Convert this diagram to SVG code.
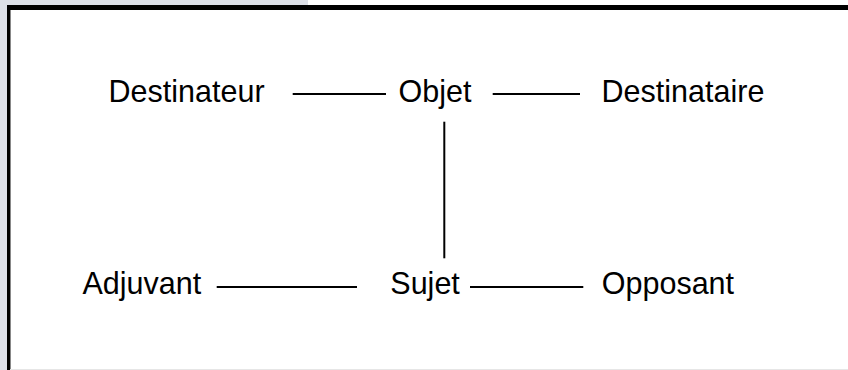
<svg xmlns="http://www.w3.org/2000/svg" width="848" height="370" viewBox="0 0 848 370">
<style>
.lbl{font-family:"Liberation Sans",Arial,sans-serif;font-size:30.5px;fill:#000}
.c{stroke:#000;stroke-width:2;fill:none}
</style>
<rect x="0" y="0" width="848" height="370" fill="#fff"/>
<rect x="0" y="0" width="308" height="5" fill="#dde0e8"/>
<rect x="0" y="0" width="7" height="370" fill="#dde0e8"/>
<rect x="7" y="5" width="841" height="5" fill="#000"/>
<rect x="7" y="5" width="3" height="365" fill="#000"/>
<rect x="10" y="10" width="1" height="360" fill="#888"/>
<rect x="10" y="369" width="838" height="1" fill="#e6e6e6"/>
<g id="connectors">
<line class="c" x1="292.7" y1="94" x2="386" y2="94"/>
<line class="c" x1="492.7" y1="94" x2="580" y2="94"/>
<line class="c" x1="444.3" y1="121.7" x2="444.3" y2="258.3"/>
<line class="c" x1="216.7" y1="287" x2="357" y2="287"/>
<line class="c" x1="470" y1="287" x2="583.3" y2="287"/>
</g>
<g id="destinateur"><text class="lbl" x="108.6" y="102">Destinateur</text></g>
<g id="objet"><text class="lbl" x="398.5" y="102">Objet</text></g>
<g id="destinataire"><text class="lbl" x="601.6" y="102">Destinataire</text></g>
<g id="adjuvant"><text class="lbl" x="82.5" y="294">Adjuvant</text></g>
<g id="sujet"><text class="lbl" x="390.3" y="294">Sujet</text></g>
<g id="opposant"><text class="lbl" x="601.8" y="294">Opposant</text></g>
</svg>
